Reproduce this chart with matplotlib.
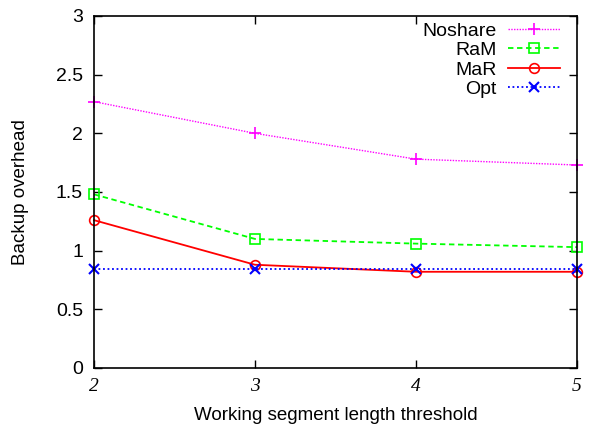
import matplotlib
matplotlib.use("Agg")
import matplotlib.pyplot as plt

x = [2, 3, 4, 5]
noshare = [2.27, 2.00, 1.78, 1.73]
ram = [1.48, 1.10, 1.06, 1.03]
mar = [1.26, 0.88, 0.82, 0.82]
opt = [0.84, 0.84, 0.84, 0.84]
xticks = [2, 3, 4, 5]
yticks = [0, 0.5, 1, 1.5, 2, 2.5, 3]
ytick_labels = ["0", "0.5", "1", "1.5", "2", "2.5", "3"]

plt.rcParams['font.family'] = ['Liberation Sans', 'DejaVu Sans']
fig = plt.figure(figsize=(5.89, 4.25), dpi=100)
ax = fig.add_axes([94/589, 1-368/425, (577-94)/589, (368-16)/425])

ax.plot(x, noshare, color='#ff00ff', linestyle=(0, (1, 1)), linewidth=1.0,
        marker='+', markersize=8, markeredgewidth=1.2, label='Noshare', clip_on=False)
ax.plot(x, ram, color='#00ff00', linestyle=(0, (3, 2)), linewidth=1.3,
        marker='s', markersize=7, markerfacecolor='none', markeredgewidth=1.2, label='RaM', clip_on=False)
ax.plot(x, mar, color='#ff0000', linestyle='-', linewidth=1.3,
        marker='o', markersize=7, markerfacecolor='none', markeredgewidth=1.2, label='MaR', clip_on=False)
ax.plot(x, opt, color='#0000ff', linestyle=(0, (1, 1.5)), linewidth=1.3,
        marker='x', markersize=7, markeredgewidth=1.5, label='Opt', clip_on=False)

ax.set_xlim(2, 5)
ax.set_ylim(0, 3)
ax.set_xticks(xticks)
ax.set_xticklabels([str(t) for t in xticks], family='Liberation Serif', style='italic', fontsize=14)
ax.set_yticks(yticks)
ax.set_yticklabels(ytick_labels, fontsize=14)
ax.tick_params(axis='y', direction='in', length=6, width=1, right=True, pad=8)
ax.tick_params(axis='x', direction='in', length=6, width=1, top=True, pad=7)
for s in ax.spines.values():
    s.set_linewidth(1.2)

ax.set_xlabel('Working segment length threshold', fontsize=13.5, labelpad=9)
ax.set_ylabel('Backup overhead', fontsize=13.5, labelpad=19)

leg = ax.legend(loc='upper right', bbox_to_anchor=((560 - 94)/483, 1 - 6/352), borderaxespad=0,
                borderpad=0, frameon=False, markerfirst=False, fontsize=14,
                handlelength=2.7, labelspacing=0.1, handletextpad=0.55)

fig.savefig('out.png', dpi=100)
